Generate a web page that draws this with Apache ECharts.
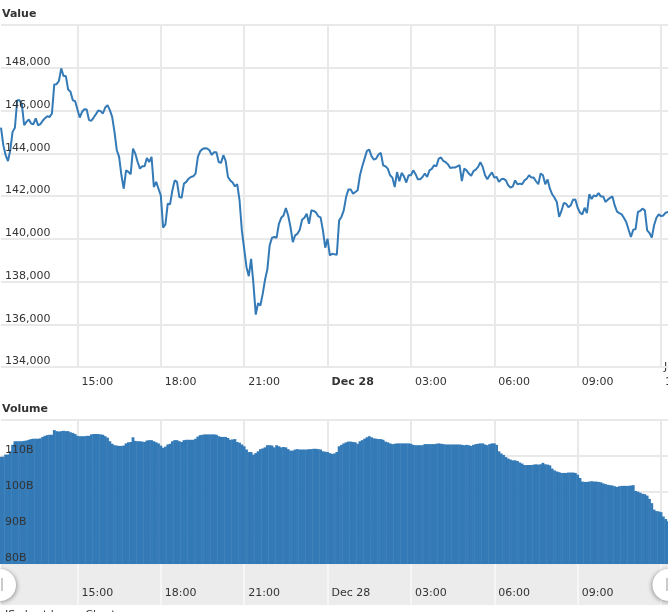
<!DOCTYPE html>
<html>
<head>
<meta charset="utf-8">
<script src="https://cdn.jsdelivr.net/npm/echarts@6/dist/echarts.min.js"></script>
<style>html,body{margin:0;padding:0;background:#fff;overflow:hidden}#c{width:668px;height:612px}</style>
</head>
<body>
<div id="c"></div>
<script>
var startMinutes = 12 * 60 + 15;
var stepMinutes = 5;
var tickLabels = {"15:00":"15:00","18:00":"18:00","21:00":"21:00","00:00":"Dec 28","03:00":"03:00","06:00":"06:00","09:00":"09:00","12:00":"12:00"};
var priceValues = [
145200,144380,143910,143630,144140,145000,145190,146480,146480,146300,145310,145470,145580,145390,145360,145630,145310,145360,145520,145640,
145730,145700,145860,147220,147230,147380,147970,147610,147610,146980,146880,146480,146440,146050,145670,145940,146060,146050,145550,145520,
145670,145830,146000,145970,145860,146140,146250,146020,145700,145000,144140,143830,142970,142340,143200,143130,143020,144220,143980,143590,
143280,143390,143390,143780,143590,143830,142420,142660,142340,142030,140520,140670,141640,141610,142270,142730,142660,141950,141920,142580,
142660,142810,142890,142920,143050,143830,144090,144200,144230,144220,144140,143920,144050,144050,143590,143550,143910,143640,142890,142730,
142630,142450,142550,141800,140390,139530,138670,138250,139060,137890,136450,136980,136880,137420,138080,138560,139690,140050,140080,140050,
140700,140980,141090,141440,141090,140550,139840,140160,140230,140420,140890,140980,141170,140700,141330,141300,141230,141050,141000,140390,
139580,140000,139220,139300,139270,139250,140860,141020,141330,141950,142300,142310,142110,142190,142270,142970,143390,143750,144110,144170,
143860,143700,143750,143940,144020,143440,143390,143280,142970,142860,142420,143120,142690,143080,142920,142630,142970,142970,143200,143020,
142780,142780,142890,143050,142890,143200,143270,143440,143390,143750,143800,143640,143580,143480,143310,143330,143330,143390,143440,142700,
143280,143200,143050,142940,143160,143230,143360,143580,143360,142970,142780,142970,143110,142860,142890,142660,142780,142810,142730,142500,
142390,142450,142730,142550,142580,142550,142730,142810,142970,142860,142860,142690,142550,143050,142970,142550,142770,142340,142080,141920,
141720,141020,141300,141670,141640,141480,141560,141830,141840,141450,141220,141140,141450,141200,142080,141860,142030,141980,142140,141980,
141980,141720,141830,141910,141980,141560,141270,141200,141140,140970,140770,140420,140080,140420,140450,141250,141300,141410,141330,140390,
140270,140050,140630,140980,141140,141060,141090,141220,141250];
var volumeValues = [
109.8,109.8,110.4,110.4,111.3,113.1,114.1,114.1,114.1,114.1,114.2,114.3,114.5,114.7,114.8,114.8,114.8,114.9,115.3,115.6,
115.8,115.9,115.9,117.2,116.9,116.8,116.9,117.0,116.9,116.9,116.6,116.4,116.1,115.6,115.5,115.5,115.5,115.6,115.6,116.0,
116.1,116.1,116.1,116.0,115.9,115.5,115.1,114.1,113.4,113.0,112.9,112.8,112.8,112.9,113.5,113.8,113.9,115.2,114.2,114.1,
114.1,114.0,113.9,114.3,114.4,114.4,114.1,113.8,113.5,112.9,112.3,112.6,113.2,113.4,114.1,114.4,114.4,114.1,113.9,114.4,
114.5,114.5,114.5,114.5,114.8,115.4,115.8,115.9,116.0,116.0,116.0,116.0,116.0,115.9,115.5,115.3,115.3,115.3,115.0,114.5,
114.6,114.7,113.9,113.7,113.2,112.7,111.8,111.1,111.1,110.4,110.8,111.3,111.9,112.1,112.4,113.0,113.0,112.9,112.4,113.0,
112.7,112.4,112.5,112.4,111.9,111.5,111.5,111.8,111.9,111.8,111.8,111.8,111.8,111.9,111.9,112.0,112.0,111.9,111.8,111.3,
111.2,111.1,110.8,110.6,110.7,111.1,112.7,113.1,113.5,113.8,114.0,114.0,113.9,113.8,113.4,114.1,114.4,114.8,115.2,115.5,
115.2,114.9,114.8,114.7,114.7,114.5,114.0,113.8,113.5,113.3,113.4,113.5,113.5,113.5,113.5,113.5,113.5,113.4,113.1,113.0,
113.0,113.0,113.0,113.3,113.3,113.3,113.3,113.3,113.4,113.5,113.4,113.3,113.2,113.2,113.2,113.2,113.2,113.2,113.2,113.1,
113.0,113.1,113.0,112.8,113.1,113.3,113.4,113.5,113.5,113.2,113.0,113.3,113.5,113.5,113.1,111.3,110.7,110.3,109.7,109.3,
109.0,108.8,108.8,108.6,108.2,107.9,107.5,107.5,107.5,107.5,107.6,107.7,107.6,107.7,108.1,107.7,107.6,107.4,106.5,106.0,
105.7,105.5,105.3,105.3,105.3,105.4,105.4,105.4,105.3,104.8,103.9,102.9,102.8,102.8,102.9,103.0,102.9,102.9,102.8,102.7,
102.4,102.2,102.0,101.9,101.8,101.6,101.4,101.6,101.7,101.7,101.7,101.7,101.8,101.9,100.3,100.1,99.8,99.5,99.4,99.0,
98.1,96.9,95.1,94.7,94.6,94.4,93.2,92.5,91.9];
var categories = priceValues.map(function (_, i) {
  var m = (startMinutes + i * stepMinutes) % 1440;
  var h = Math.floor(m / 60), n = m % 60;
  return (h < 10 ? "0" : "") + h + ":" + (n < 10 ? "0" : "") + n;
});
var isTick = function (index, value) { return tickLabels[value] !== undefined; };
var textColor = "#333";
var font = "DejaVu Sans";
var gridColor = "#e9e9e9";

function xAxisFor(grid, labelOpt, lineColor) {
  return {
    type: "category", gridIndex: grid, data: categories, boundaryGap: false,
    axisLine: {show: false}, axisTick: {show: false},
    splitLine: {show: true, interval: isTick, lineStyle: {color: lineColor, width: 2}},
    axisLabel: labelOpt
  };
}
function yAxisFor(grid, min, max, interval, fmt, overlay) {
  return {
    type: "value", gridIndex: grid, min: min, max: max, interval: interval, position: "left",
    z: overlay ? 6 : 0,
    axisLine: {show: false}, axisTick: {show: false},
    splitLine: {show: !overlay, lineStyle: {color: gridColor, width: 2}},
    axisLabel: {show: !!overlay, inside: true, margin: 4, showMaxLabel: false, showMinLabel: true,
      verticalAlign: "bottom", padding: [0, 0, 0, 0], color: textColor, fontFamily: font, fontSize: 11, formatter: fmt}
  };
}
var priceFmt = function (v) { return v.toLocaleString("en-US"); };
var volFmt = function (v) { return v + "B"; };

var chart = echarts.init(document.getElementById("c"), null, {renderer: "canvas"});
chart.setOption({
  animation: false,
  backgroundColor: "#fff",
  grid: [
    {left: 1, right: 0, top: 25, height: 342, outerBoundsMode: "none"},
    {left: 1, right: 0, top: 420, height: 144, outerBoundsMode: "none"},
    {left: 1, right: 0, top: 564, height: 41, show: true, backgroundColor: "#ececec", borderWidth: 0, outerBoundsMode: "none"}
  ],
  xAxis: [
    xAxisFor(0, {show: true, interval: isTick, align: "left", margin: 10, padding: [0, 0, 0, 4],
      color: textColor, fontFamily: font, fontSize: 11, hideOverlap: false,
      formatter: function (v) { return v === "00:00" ? "{b|Dec 28}" : tickLabels[v]; },
      rich: {b: {fontWeight: "bold", color: textColor, fontFamily: font, fontSize: 11}}}, gridColor),
    xAxisFor(1, {show: false}, gridColor),
    xAxisFor(2, {show: true, inside: true, interval: isTick, align: "left", margin: 6, padding: [0, 0, 0, 4],
      color: textColor, fontFamily: font, fontSize: 11, hideOverlap: false,
      formatter: function (v) { return tickLabels[v]; }}, "#f6f6f6")
  ],
  yAxis: [
    yAxisFor(0, 134000, 150000, 2000, priceFmt, false),
    yAxisFor(1, 80, 120, 10, volFmt, false),
    {type: "value", gridIndex: 2, show: false, min: 0, max: 1},
    yAxisFor(0, 134000, 150000, 2000, priceFmt, true),
    yAxisFor(1, 80, 120, 10, volFmt, true)
  ],
  series: [
    {name: "Value", type: "line", xAxisIndex: 0, yAxisIndex: 0, data: priceValues, showSymbol: false, symbol: "none",
     lineStyle: {color: "#337ab7", width: 2}, itemStyle: {color: "#337ab7"}, clip: true},
    {name: "Volume", type: "bar", xAxisIndex: 1, yAxisIndex: 1, data: volumeValues, barWidth: 2.8,
     itemStyle: {color: "#337ab7"}}
  ],
  graphic: [
    {type: "text", left: 2, top: 9, style: {text: "Value", font: "bold 11px 'DejaVu Sans'", fill: textColor}},
    {type: "text", left: 2, top: 404, style: {text: "Volume", font: "bold 11px 'DejaVu Sans'", fill: textColor}},
    {type: "text", left: 5, top: 610, style: {text: "JS chart by amCharts", font: "11px 'DejaVu Sans'", fill: textColor}},
    {type: "text", left: 664, top: 362, style: {text: "J", font: "11px 'DejaVu Sans'", fill: textColor}},
    {type: "circle", shape: {cx: 0, cy: 585, r: 16}, style: {fill: "#fff", shadowBlur: 4, shadowColor: "rgba(0,0,0,0.35)", shadowOffsetX: 1, shadowOffsetY: 1}, z: 20},
    {type: "rect", shape: {x: 1, y: 578, width: 2, height: 13}, style: {fill: "#ccc"}, z: 21},
    {type: "circle", shape: {cx: 668.5, cy: 585, r: 16}, style: {fill: "#fff", shadowBlur: 4, shadowColor: "rgba(0,0,0,0.35)", shadowOffsetX: -1, shadowOffsetY: 1}, z: 20},
    {type: "rect", shape: {x: 666, y: 578, width: 2, height: 13}, style: {fill: "#ccc"}, z: 21}
  ]
});
</script>
</body>
</html>
